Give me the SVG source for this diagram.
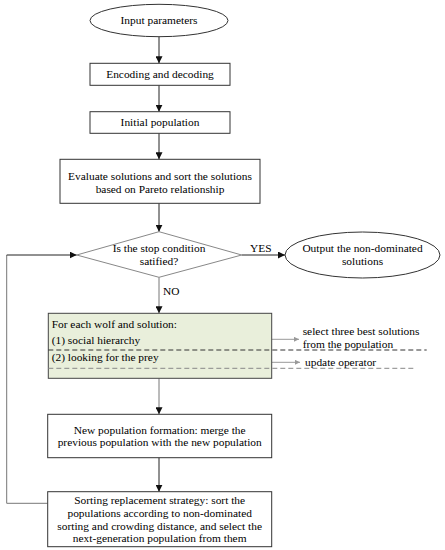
<svg xmlns="http://www.w3.org/2000/svg" width="445" height="550" viewBox="0 0 445 550">
<style>
text{font-family:"Liberation Serif","Times New Roman",serif;font-size:11.4px;fill:#000}
.c{text-anchor:middle}
.box{fill:#fff;stroke:#333;stroke-width:1}
.ln{fill:none;stroke:#222;stroke-width:1}
.gl{fill:none;stroke:#777;stroke-width:1}
.ga{fill:none;stroke:#999;stroke-width:1}
</style>
<defs>
<marker id="ah" viewBox="0 0 10 10" refX="10" refY="5" markerWidth="7" markerHeight="7" markerUnits="userSpaceOnUse" orient="auto"><path d="M0,0 L10,5 L0,10 Z" fill="#111"/></marker>
<marker id="gh" viewBox="0 0 10 10" refX="10" refY="5" markerWidth="7" markerHeight="5" markerUnits="userSpaceOnUse" orient="auto"><path d="M0,0 L10,5 L0,10 Z" fill="#999"/></marker>
</defs>
<rect width="445" height="550" fill="#fff"/>
<g id="connectors">
<path class="ln" d="M159,36.7 V63.3" marker-end="url(#ah)"/>
<path class="ln" d="M159,85.3 V111.7" marker-end="url(#ah)"/>
<path class="ln" d="M159,133.3 V159.3" marker-end="url(#ah)"/>
<path class="ln" d="M159,203.3 V231.7" marker-end="url(#ah)"/>
<path class="ln" d="M241.7,255 H285" marker-end="url(#ah)"/>
<path class="gl" d="M159,277.3 V313.3" marker-end="url(#ah)"/>
<path class="gl" d="M159,378.3 V414.3" marker-end="url(#ah)"/>
<path class="ln" d="M159,457.7 V491.7" marker-end="url(#ah)"/>
<path class="gl" d="M47.7,503.3 H6.7 V255"/>
<path class="ln" d="M6.7,255 H76.7" marker-end="url(#ah)"/>
<path class="ga" d="M271.7,339.3 H299" marker-end="url(#gh)"/>
<path class="ga" d="M271.7,362.3 H300" marker-end="url(#gh)"/>
<text x="250" y="251.5">YES</text>
<text x="163" y="295">NO</text>
</g>
<g id="n-input"><ellipse cx="159" cy="20.5" rx="69" ry="16.2" class="box"/><text class="c" x="159" y="24.3">Input parameters</text></g>
<g id="n-encoding"><rect x="90" y="63.3" width="140" height="22" class="box"/><text class="c" x="160" y="78">Encoding and decoding</text></g>
<g id="n-initial"><rect x="90" y="111.7" width="140" height="21.6" class="box"/><text class="c" x="160" y="126.2">Initial population</text></g>
<g id="n-evaluate"><rect x="60" y="159.3" width="200" height="44" class="box"/><text class="c" x="160" y="179.5">Evaluate solutions and sort the solutions</text><text class="c" x="160" y="192.5">based on Pareto relationship</text></g>
<g id="n-stop"><path d="M76.7,255 L159,231.7 L241.7,255 L159,277.3 Z" fill="#fff" stroke="#888"/><text class="c" x="159" y="251.5">Is the stop condition</text><text class="c" x="159" y="264.5">satified?</text></g>
<g id="n-output"><ellipse cx="362.5" cy="255" rx="77.5" ry="23" class="box"/><text class="c" x="362.5" y="251.5">Output the non-dominated</text><text class="c" x="362.5" y="264.5">solutions</text></g>
<g id="n-wolf"><rect x="48.3" y="313.3" width="223.4" height="65" fill="#e9efdb" stroke="#444"/>
<text x="51.7" y="328">For each wolf and solution:</text>
<text x="51.7" y="344">(1) social hierarchy</text>
<text x="51.7" y="360.5">(2) looking for the prey</text>
<path d="M48.3,350 H426.7" stroke="#333" stroke-dasharray="5,3" fill="none"/>
<path d="M48.3,368.3 H415" stroke="#888" stroke-dasharray="5,3" fill="none"/>
</g>
<g id="n-notes">
<text x="302.7" y="334.5">select three best solutions</text>
<text x="302.7" y="347.5">from the population</text>
<text x="305" y="365.5">update operator</text>
</g>
<g id="n-newpop"><rect x="47.7" y="414.3" width="224" height="43.4" class="box"/><text class="c" x="159.7" y="433.7">New population formation: merge the</text><text class="c" x="159.7" y="446.4">previous population with the new population</text></g>
<g id="n-sorting"><rect x="47.7" y="491.7" width="224" height="55" class="box"/><text class="c" x="159.7" y="504.4">Sorting replacement strategy: sort the</text><text class="c" x="159.7" y="517">populations according to non-dominated</text><text class="c" x="159.7" y="529.7">sorting and crowding distance, and select the</text><text class="c" x="159.7" y="542">next-generation population from them</text></g>
</svg>
